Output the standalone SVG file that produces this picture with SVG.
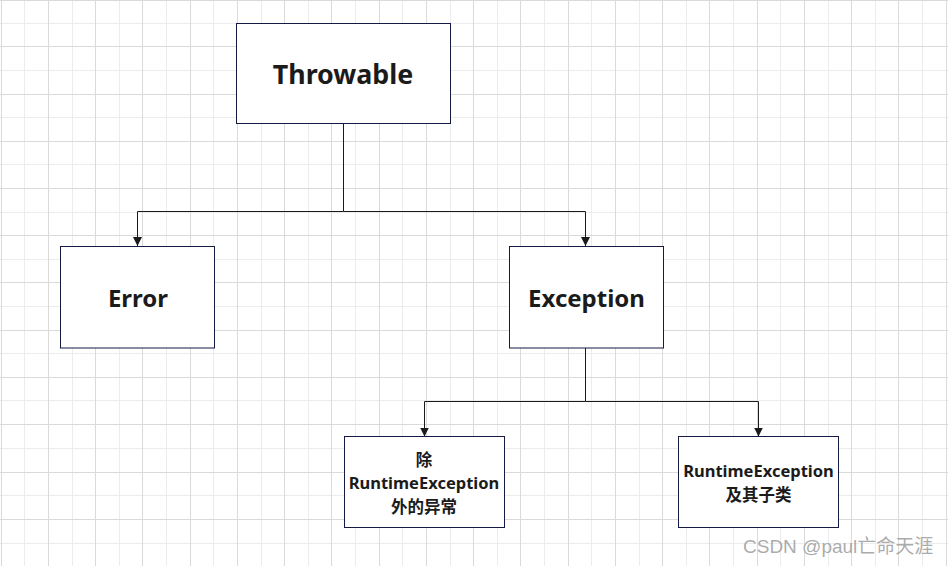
<svg xmlns="http://www.w3.org/2000/svg" width="948" height="566" viewBox="0 0 948 566">
<style>
.minor{stroke:#ececec;stroke-width:1;fill:none}
.major{stroke:#dadada;stroke-width:1;fill:none}
.box{fill:#ffffff;stroke:#141a44;stroke-width:1}
.lbl{font-family:"Noto Sans","Noto Sans CJK SC",sans-serif;font-weight:bold;fill:#1b1b1b;text-anchor:middle}
.big{font-size:26.8px}
.mid{font-size:24px}
.small{font-size:16.5px}
.conn{stroke:#1a1a1a;stroke-width:1;fill:none}
.wm{font-family:"Liberation Sans","Noto Sans CJK SC",sans-serif;font-size:19px;fill:#9c9c9c;fill-opacity:0.85}
</style>
<defs>
<marker id="arr" viewBox="0 0 10 10" refX="10" refY="5" markerWidth="9" markerHeight="9" markerUnits="userSpaceOnUse" orient="auto">
<path d="M0,0 L10,5 L0,10 Z" fill="#1a1a1a"/>
</marker>
</defs>
<rect width="948" height="566" fill="#ffffff"/>
<g id="grid">
<path class="minor" d="M24.5,0V566M72.5,0V566M119.5,0V566M166.5,0V566M213.5,0V566M261.5,0V566M308.5,0V566M355.5,0V566M402.5,0V566M450.5,0V566M497.5,0V566M544.5,0V566M591.5,0V566M639.5,0V566M686.5,0V566M733.5,0V566M780.5,0V566M828.5,0V566M875.5,0V566M922.5,0V566
M0,23.5H948M0,70.5H948M0,117.5H948M0,164.5H948M0,212.5H948M0,259.5H948M0,306.5H948M0,353.5H948M0,400.5H948M0,448.5H948M0,495.5H948M0,543.5H948"/>
<path class="major" d="M1.5,0V566M48.5,0V566M95.5,0V566M142.5,0V566M190.5,0V566M237.5,0V566M284.5,0V566M331.5,0V566M379.5,0V566M426.5,0V566M473.5,0V566M520.5,0V566M568.5,0V566M615.5,0V566M662.5,0V566M709.5,0V566M757.5,0V566M804.5,0V566M851.5,0V566M898.5,0V566M946.5,0V566
M0,0.5H948M0,46.5H948M0,94.5H948M0,141.5H948M0,188.5H948M0,235.5H948M0,282.5H948M0,330.5H948M0,377.5H948M0,424.5H948M0,472.5H948M0,519.5H948"/>
</g>
<g id="connectors">
<path class="conn" d="M343.5,123.5V211.5H137.5V246" marker-end="url(#arr)"/>
<path class="conn" d="M343.5,211.5H585.5V246" marker-end="url(#arr)"/>
<path class="conn" d="M585.5,348V401.5H424.5V436.5" marker-end="url(#arr)"/>
<path class="conn" d="M585.5,401.5H758.5V436.5" marker-end="url(#arr)"/>
</g>
<g id="throwable">
<rect class="box" x="236.5" y="23.5" width="214" height="100"/>
<text class="lbl big" x="343" y="84">Throwable</text>
</g>
<g id="error">
<rect class="box" x="60.5" y="246.5" width="154" height="101.5"/>
<text class="lbl mid" x="138" y="306.5">Error</text>
</g>
<g id="exception">
<rect class="box" x="509.5" y="246.5" width="154" height="101.5"/>
<text class="lbl mid" x="586.5" y="306.5">Exception</text>
</g>
<g id="checked">
<rect class="box" x="344.5" y="436.5" width="160" height="91"/>
<text class="lbl small" x="424" y="466">除</text>
<text class="lbl small" x="424" y="489">RuntimeException</text>
<text class="lbl small" x="424" y="513">外的异常</text>
</g>
<g id="runtime">
<rect class="box" x="678.5" y="436.5" width="160" height="91"/>
<text class="lbl small" x="758.5" y="477">RuntimeException</text>
<text class="lbl small" x="758.5" y="501">及其子类</text>
</g>
<text class="wm" x="743" y="553">CSDN @paul亡命天涯</text>
</svg>
